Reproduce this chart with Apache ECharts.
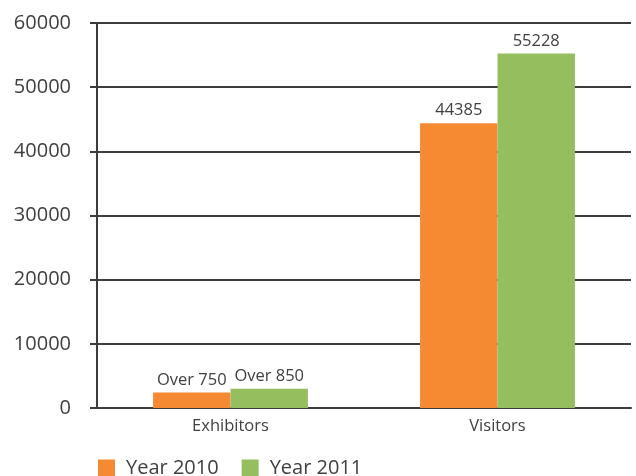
<!DOCTYPE html>
<html>
<head>
<meta charset="utf-8">
<script src="https://cdn.jsdelivr.net/npm/echarts@6/dist/echarts.min.js"></script>
<style>html,body{margin:0;padding:0;background:#fff;}#c{width:636px;height:476px;}</style>
</head>
<body>
<div id="c"></div>
<script>
var categories = ['Exhibitors', 'Visitors'];
var seriesNames = ['Year 2010', 'Year 2011'];
var values2010 = [2400, 44385];
var values2011 = [3000, 55228];
var labels2010 = ['Over 750', '44385'];
var labels2011 = ['Over 850', '55228'];
var yTicks = [0, 10000, 20000, 30000, 40000, 50000, 60000];

var FONT = '"Open Sans", sans-serif';
var TXT = '#404040';
var LINE = '#3c3c3c';

var chart = echarts.init(document.getElementById('c'), null, {renderer: 'canvas'});
function mkLabel(arr) {
  return {
    show: true, position: 'top', distance: 4,
    color: TXT, fontFamily: FONT, fontSize: 16.5,
    formatter: function (p) { return arr[p.dataIndex]; }
  };
}
chart.setOption({
  animation: false,
  backgroundColor: '#fff',
  grid: {left: 97, right: 5, top: 23, bottom: 68, containLabel: false},
  legend: {
    data: seriesNames, left: 98, top: 458, padding: 0, itemWidth: 17, itemHeight: 17, itemGap: 23,
    icon: 'rect',
    textStyle: {color: TXT, fontFamily: FONT, fontSize: 20, padding: [0, 0, 0, 6]}
  },
  xAxis: {
    type: 'category', data: categories,
    axisLine: {show: true, lineStyle: {color: LINE, width: 2}},
    axisTick: {show: false},
    axisLabel: {color: TXT, fontFamily: FONT, fontSize: 16.5, margin: 10}
  },
  yAxis: {
    type: 'value', min: yTicks[0], max: yTicks[yTicks.length - 1], interval: yTicks[1] - yTicks[0],
    axisLine: {show: true, lineStyle: {color: LINE, width: 2}},
    axisTick: {show: true, length: 7, lineStyle: {color: LINE, width: 2}},
    splitLine: {show: true, lineStyle: {color: LINE, width: 2}},
    axisLabel: {color: TXT, fontFamily: FONT, fontSize: 20, margin: 26,
      formatter: function (v) { return String(v); }}
  },
  series: [
    {name: seriesNames[0], type: 'bar', data: values2010, barGap: '0%', barCategoryGap: '42%',
     itemStyle: {color: '#F68A33'}, label: mkLabel(labels2010)},
    {name: seriesNames[1], type: 'bar', data: values2011, barGap: '0%', barCategoryGap: '42%',
     itemStyle: {color: '#95BE5F'}, label: mkLabel(labels2011)}
  ]
});
</script>
</body>
</html>
